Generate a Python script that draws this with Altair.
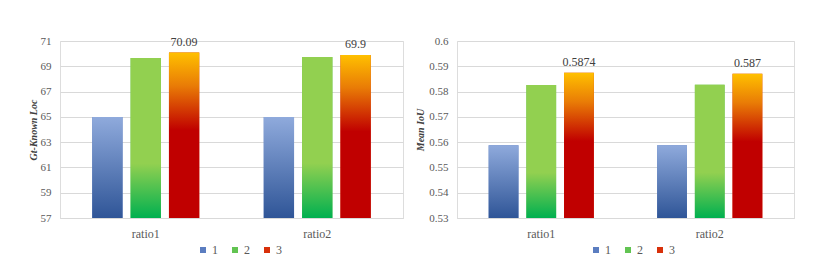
import altair as alt
import pandas as pd

ratios = ["ratio1", "ratio2"]
series = ["1", "2", "3"]

loc_s1 = [64.98, 64.98]
loc_s2 = [69.66, 69.73]
loc_s3 = [70.09, 69.90]
loc_labels = ["70.09", "69.9"]
loc_ticks = [57, 59, 61, 63, 65, 67, 69, 71]

miou_s1 = [0.5588, 0.5588]
miou_s2 = [0.5826, 0.5827]
miou_s3 = [0.5874, 0.5870]
miou_labels = ["0.5874", "0.587"]
miou_ticks = [0.53, 0.54, 0.55, 0.56, 0.57, 0.58, 0.59, 0.60]

legend_colors = ["#5B7DC0", "#62C452", "#D8300A"]

FONT = "Liberation Serif"


def grad(stops):
    return {"gradient": "linear", "x1": 0, "y1": 0, "x2": 0, "y2": 1,
            "stops": [{"offset": o, "color": c} for o, c in stops]}


gradients = [
    grad([(0, "#8FAADC"), (1, "#2F5597")]),
    grad([(0, "#92D050"), (0.66, "#92D050"), (1, "#00B050")]),
    grad([(0, "#FFC000"), (0.2, "#E97C06"), (0.47, "#C00000"), (1, "#C00000")]),
]


def make_df(s1, s2, s3, labels):
    rows = []
    for i, r in enumerate(ratios):
        rows.append({"ratio": r, "s": "1", "v": s1[i], "label": ""})
        rows.append({"ratio": r, "s": "2", "v": s2[i], "label": ""})
        rows.append({"ratio": r, "s": "3", "v": s3[i], "label": labels[i]})
    return pd.DataFrame(rows)


def panel(df, dom, ticks, fmt, title, width, legend_x, title_pad):
    base = alt.Chart(df).encode(
        x=alt.X("ratio:N", sort=ratios,
                scale=alt.Scale(paddingInner=0.376, paddingOuter=0.188),
                axis=alt.Axis(title=None, labelAngle=0, ticks=False, grid=False,
                              domain=True, domainColor="#D9D9D9", labelPadding=10,
                              labelFontSize=12, labelColor="#595959", labelFont=FONT)),
        xOffset=alt.XOffset("s:N", scale=alt.Scale(domain=series, paddingInner=0.21, paddingOuter=0)),
        y=alt.Y("v:Q", scale=alt.Scale(domain=dom, nice=False, zero=False),
                axis=alt.Axis(values=ticks, format=fmt, title=title, domain=False, ticks=False,
                              grid=True, gridColor="#D9D9D9", labelPadding=9,
                              labelFontSize=11, labelColor="#595959", labelFont=FONT,
                              titleFont=FONT, titleFontSize=10, titleFontStyle="italic",
                              titleFontWeight="bold", titleColor="#404040",
                              titlePadding=title_pad)),
    )
    bar_base = base.encode(y2=alt.datum(dom[0]))
    legend_bars = bar_base.mark_bar().encode(
        color=alt.Color("s:N", scale=alt.Scale(domain=series, range=legend_colors),
                        legend=alt.Legend(orient="none", legendX=legend_x, legendY=203,
                                          direction="horizontal", title=None,
                                          symbolType="square", symbolSize=36,
                                          symbolStrokeWidth=0, labelFont=FONT,
                                          labelFontSize=12, labelColor="#595959",
                                          columnPadding=11, labelOffset=3))
    )
    grads = [bar_base.transform_filter(alt.datum.s == k).mark_bar(fill=g)
             for k, g in zip(series, gradients)]
    text = base.transform_filter(alt.datum.s == "3").mark_text(
        baseline="alphabetic", dy=-7, fontSize=12, color="#404040", font=FONT
    ).encode(text="label:N")
    return alt.layer(legend_bars, *grads, text).properties(width=width, height=177)


left = panel(make_df(loc_s1, loc_s2, loc_s3, loc_labels), [57, 71], loc_ticks, "d",
             "Gt-Known Loc", 343, 137, 2)
right = panel(make_df(miou_s1, miou_s2, miou_s3, miou_labels), [0.53, 0.60], miou_ticks, ".2~f",
              "Mean IoU", 337, 133, 3)

chart = alt.hconcat(left, right, spacing=54, bounds="flush").resolve_scale(
    color="independent", y="independent", x="independent", xOffset="independent"
).resolve_legend(color="independent").properties(
    padding={"left": 19, "top": 26, "right": 5, "bottom": 5}
).configure_view(stroke="#D9D9D9").configure(font=FONT)

chart.save("out.html", embed_options={"renderer": "svg", "actions": False})
